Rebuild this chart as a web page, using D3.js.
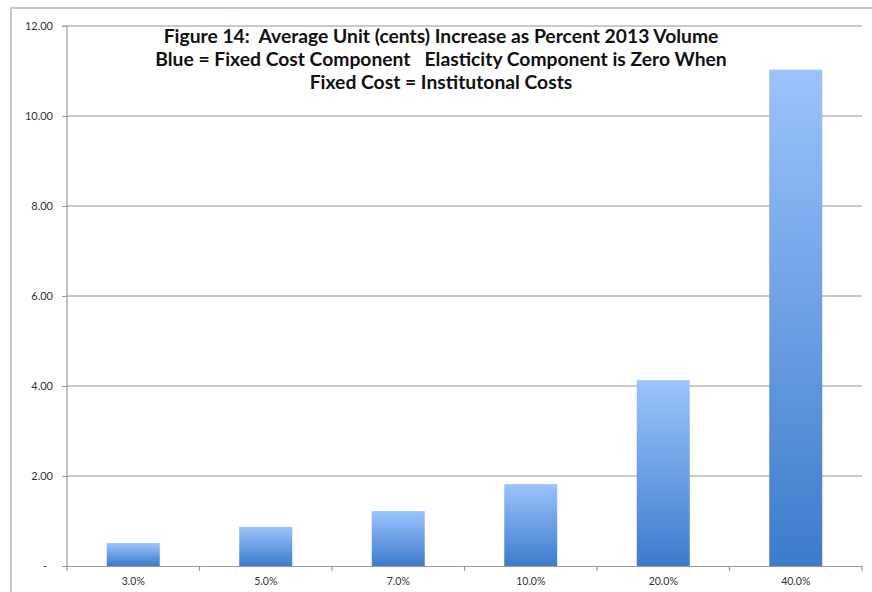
<!DOCTYPE html>
<html><head><meta charset="utf-8">
<script src="https://cdn.jsdelivr.net/npm/d3@7"></script>
<style>body{margin:0;background:#fff;}svg{display:block;} .ttl{white-space:pre;}</style>
</head><body>
<svg id="c" width="872" height="592"></svg>
<script>
const categories = ["3.0%","5.0%","7.0%","10.0%","20.0%","40.0%"];
const values = [0.51,0.87,1.22,1.82,4.13,11.03];
const yTicks = [0,2,4,6,8,10,12];
const titleLines = ["Figure 14:  Average Unit (cents) Increase as Percent 2013 Volume",
  "Blue = Fixed Cost Component   Elasticity Component is Zero When",
  "Fixed Cost = Institutonal Costs"];

const svg = d3.select("#c");
const L = 67, R = 862, T = 26, B = 566;

// outer frame
svg.append("rect").attr("x",11).attr("y",8).attr("width",880).attr("height",600)
  .attr("fill","none").attr("stroke","#c8c8c8").attr("stroke-width",2);

const x = d3.scaleBand().domain(categories).range([L,R]).paddingInner(0.6).paddingOuter(0.3);
const xb = d3.scaleBand().domain(categories).range([L,R]);
const y = d3.scaleLinear().domain([0,12]).range([B,T]);

const defs = svg.append("defs");
const g = defs.append("linearGradient").attr("id","bg").attr("x1",0).attr("y1",0).attr("x2",0).attr("y2",1);
g.append("stop").attr("offset","0%").attr("stop-color","#9cc3fb");
g.append("stop").attr("offset","100%").attr("stop-color","#3d7bcc");

// gridlines
svg.append("g").selectAll("line").data(yTicks.filter(d=>d>0)).join("line")
  .attr("x1",L).attr("x2",R).attr("y1",d=>y(d)).attr("y2",d=>y(d))
  .attr("stroke","#b8b8b8").attr("stroke-width",1.5);

// bars
svg.append("g").selectAll("rect").data(values).join("rect")
  .attr("x",(d,i)=>x(categories[i])).attr("width",x.bandwidth())
  .attr("y",d=>y(d)).attr("height",d=>B-y(d)).attr("fill","url(#bg)");

// y axis
const yAxis = d3.axisLeft(y).tickValues(yTicks).tickSize(5).tickPadding(9)
  .tickFormat(d=>d===0?"-":d3.format(".2f")(d));
const ya = svg.append("g").attr("transform",`translate(${L},0)`).call(yAxis);
ya.select(".domain").attr("stroke","#999").attr("stroke-width",1.2).attr("d",`M-5,${T}H0V${B}`);
ya.selectAll(".tick line").attr("stroke","#999");
ya.selectAll(".tick text").attr("font-family","Lato, 'Open Sans', sans-serif").attr("font-size",11).attr("fill","#333");
ya.selectAll(".tick text").filter(d=>d===0).attr("dx",-6);

// x axis
const xAxis = d3.axisBottom(xb).tickSize(0).tickPadding(12);
const xa = svg.append("g").attr("transform",`translate(0,${B})`).call(xAxis);
xa.select(".domain").attr("stroke","#999").attr("stroke-width",1.2);
xa.selectAll(".tick text").attr("font-family","Lato, 'Open Sans', sans-serif").attr("font-size",10.5).attr("fill","#333");
// boundary tick marks
svg.append("g").selectAll("line").data(categories.concat(["end"])).join("line")
  .attr("x1",(d,i)=>L+i*xb.step()).attr("x2",(d,i)=>L+i*xb.step())
  .attr("y1",B).attr("y2",B+5).attr("stroke","#999").attr("stroke-width",1.2);

// title
svg.append("g").selectAll("text").data(titleLines).join("text")
  .attr("class","ttl")
  .attr("x",441).attr("y",(d,i)=>43+i*23).attr("text-anchor","middle")
  .attr("font-family","Lato, 'Open Sans', sans-serif").attr("font-weight","bold")
  .attr("font-size",19.3).attr("fill","#111").text(d=>d);
</script>
</body></html>
